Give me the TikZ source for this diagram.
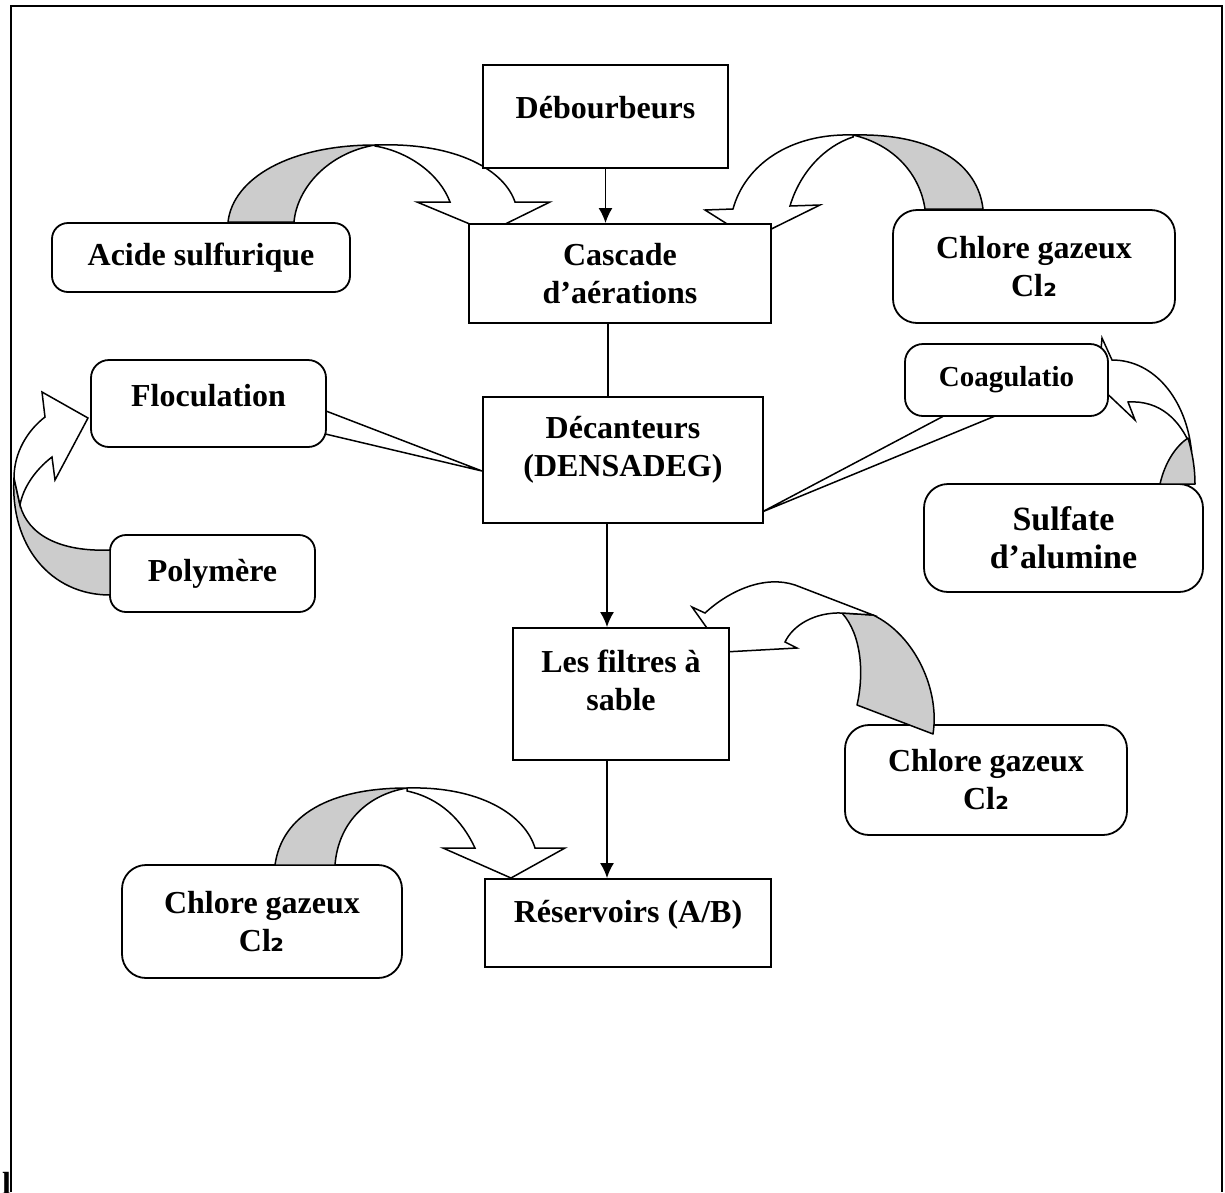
\documentclass[tikz,border=0pt]{standalone}
\usepackage{fontspec}
\setmainfont{Liberation Serif}
\newfontfamily\dvsans{DejaVu Sans}
\usetikzlibrary{arrows.meta,calc}
\begin{document}
\begin{tikzpicture}[x=1pt,y=-1pt,
  every node/.style={font=\fontsize{32}{38}\selectfont\bfseries, align=center, inner sep=0pt},
  sq/.style={draw, line width=1.8pt, fill=white, rectangle},
  rd/.style={draw, line width=1.8pt, fill=white, rectangle, rounded corners=16pt},
  band/.style={draw, line width=1.5pt, fill=gray!40, line join=round},
  body/.style={draw, line width=1.5pt, fill=white, line join=miter},
  flow/.style={line width=1.8pt, -{Latex[length=15pt,width=14pt]}},
  plain/.style={line width=1.8pt},
]
\useasboundingbox (0,0) rectangle (1225,1192);
% frame
\draw[line width=2.5pt] (11,1192) -- (11,6) -- (1222,6) -- (1222,1192);
\node[anchor=base west] (lglyph) at (2,1194) {l};

% boxes under the block arrows
\node[rd, minimum width=298pt, minimum height=69pt] (acide) at (201,257.5) {Acide sulfurique};
\node[rd, rounded corners=24pt, minimum width=282pt, minimum height=113pt] (chl1) at (1034,266.5) {Chlore gazeux\\Cl{\dvsans ₂}};
\node[rd, minimum width=205pt, minimum height=77pt] (poly) at (212.5,573.5) {Polymère};
\node[rd, rounded corners=24pt, minimum width=279pt, minimum height=108pt, font=\fontsize{34}{38}\selectfont\bfseries] (sulf) at (1063.5,538) {Sulfate\\d’alumine};
\node[rd, rounded corners=24pt, minimum width=282pt, minimum height=110pt] (chl2) at (986,780) {Chlore gazeux\\Cl{\dvsans ₂}};
\node[rd, rounded corners=24pt, minimum width=280pt, minimum height=113pt] (chl3) at (262,921.5) {Chlore gazeux\\Cl{\dvsans ₂}};

% block arrow: acide -> cascade
\draw[band] (228,222) .. controls (233,178) and (290,145) .. (375,145) .. controls (328,153) and (297,188) .. (294,222) -- cycle;
\draw[body] (375,145) .. controls (460,142) and (505,172) .. (515,202) -- (550,202) -- (489,232) -- (417,202) -- (450,202) .. controls (440,175) and (410,152) .. (375,146) -- cycle;

% block arrow: chl1 -> cascade
\draw[band] (983,209) .. controls (978,165) and (935,133) .. (853,135) .. controls (895,145) and (920,175) .. (925,209) -- cycle;
\draw[body] (853,135) .. controls (790,133) and (745,165) .. (733,209) -- (705,210) -- (751,239) -- (820,205) -- (790,206) .. controls (800,172) and (825,146) .. (853,137) -- cycle;

% block arrow: polymere -> floculation
\draw[band] (14,478) .. controls (10,545) and (50,595) .. (110,595) -- (110,550) .. controls (60,552) and (28,535) .. (20,505) -- cycle;
\draw[body] (14,478) .. controls (14,452) and (28,430) .. (45,417) -- (42,392) -- (88,418) -- (55,480) -- (52,457) .. controls (35,470) and (23,488) .. (20,505) -- cycle;

% block arrow: sulfate -> coagulation
\draw[body] (1102,338) -- (1112,360) .. controls (1155,360) and (1185,400) .. (1191,447) .. controls (1180,420) and (1160,400) .. (1128,402) -- (1135,420) -- (1098,385) -- cycle;
\draw[band] (1160,484) .. controls (1165,462) and (1176,446) .. (1188,438) .. controls (1193,455) and (1195,470) .. (1195,484) -- cycle;

% block arrow: chl2 -> filtres
\draw[band] (842,613) .. controls (862,635) and (864,675) .. (857,705) -- (933,734) .. controls (940,690) and (915,635) .. (873,615) -- cycle;
\draw[body] (705,613) .. controls (730,590) and (765,575) .. (795,585) -- (873,615) -- (842,613) .. controls (815,612) and (793,625) .. (785,642) -- (797,648) -- (724,652) -- (692,607) -- cycle;

% block arrow: chl3 -> reservoirs
\draw[band] (275,865) .. controls (282,815) and (330,788) .. (407,788) .. controls (365,795) and (338,825) .. (335,865) -- cycle;
\draw[body] (407,788) .. controls (480,786) and (525,815) .. (535,848) -- (565,848) -- (511,878) -- (443,848) -- (475,848) .. controls (462,820) and (440,798) .. (407,791) -- cycle;

% callout tails
\draw[body] (300,401) -- (482,471) -- (300,428) -- cycle;
\draw[body] (974,400) -- (762,512) -- (1034,400) -- cycle;

% boxes on top
\node[rd, rounded corners=18pt, minimum width=235pt, minimum height=87pt] (flo) at (208.5,403.5) {};
\node (flot) at (208.5,396) {Floculation};
\node[rd, rounded corners=18pt, minimum width=203pt, minimum height=72pt, font=\fontsize{29}{34}\selectfont\bfseries] (coa) at (1006.5,380) {Coagulatio};
\node[sq, minimum width=245pt, minimum height=103pt] (deb) at (605.5,116.5) {};
\node (debt) at (605.5,108) {Débourbeurs};
\node[sq, minimum width=302pt, minimum height=99pt] (cas) at (620,273.5) {Cascade\\d’aérations};
\node[sq, minimum width=280pt, minimum height=126pt] (dec) at (623,460) {};
\node (dect) at (623,450) {Décanteurs\\(DENSADEG)};
\node[sq, minimum width=216pt, minimum height=132pt] (fil) at (621,694) {};
\node (filt) at (621,680) {Les filtres à\\sable};
\node[sq, minimum width=286pt, minimum height=88pt] (res) at (628,923) {};
\node (rest) at (628,915) {Réservoirs (A/B)};

% straight connectors
\coordinate (xa) at (608,0);
\coordinate (xb) at (607,0);
\draw[flow] (deb.south) -- (deb.south |- cas.north);
\draw[plain] (cas.south -| xa) -- (dec.north -| xa);
\draw[flow] (dec.south -| xb) -- (fil.north -| xb);
\draw[flow] (fil.south -| xb) -- (res.north -| xb);
\end{tikzpicture}
\end{document}
